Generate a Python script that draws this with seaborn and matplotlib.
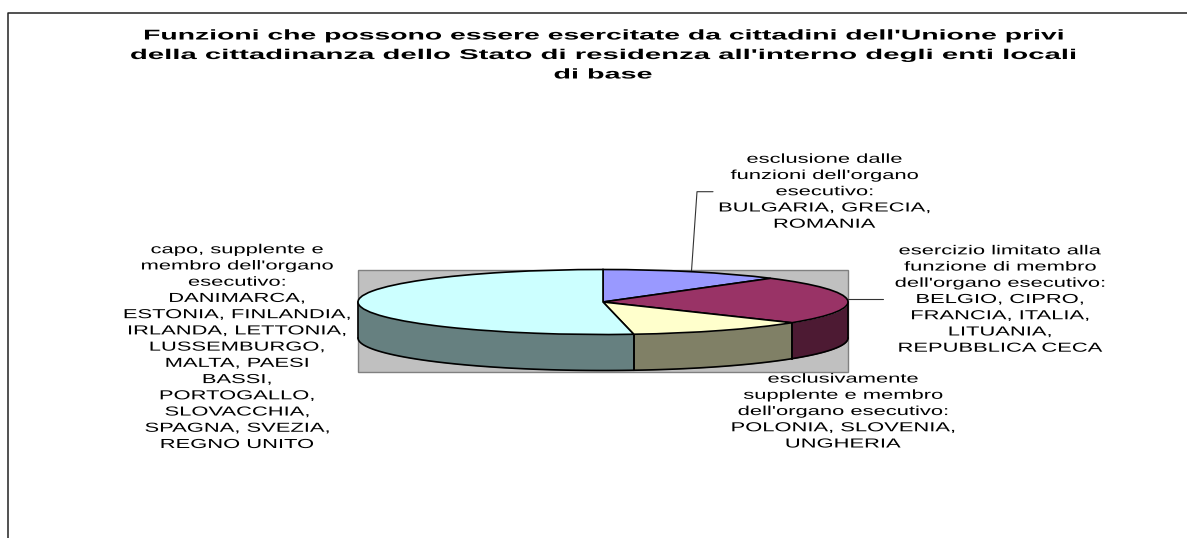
import numpy as np
import seaborn as sns
import matplotlib.pyplot as plt
from matplotlib.patches import Rectangle
from matplotlib.patheffects import AbstractPathEffect
from matplotlib.transforms import Affine2D

# Number of member states in each group, clockwise from 12 o'clock
counts = [3, 6, 3, 13]
top_colors = ['#9999FF', '#993366', '#FFFFCC', '#CCFFFF']
side_colors = ['#4D4D80', '#4D1A33', '#808066', '#668080']

title_lines = [
    "Funzioni che possono essere esercitate da cittadini dell'Unione privi",
    "della cittadinanza dello Stato di residenza all'interno degli enti locali",
    "di base",
]
label_texts = [
    "esclusione dalle\nfunzioni dell'organo\nesecutivo:\nBULGARIA, GRECIA,\nROMANIA",
    "esercizio limitato alla\nfunzione di membro\ndell'organo esecutivo:\nBELGIO, CIPRO,\nFRANCIA, ITALIA,\nLITUANIA,\nREPUBBLICA CECA",
    "esclusivamente\nsupplente e membro\ndell'organo esecutivo:\nPOLONIA, SLOVENIA,\nUNGHERIA",
    "capo, supplente e\nmembro dell'organo\nesecutivo:\nDANIMARCA,\nESTONIA, FINLANDIA,\nIRLANDA, LETTONIA,\nLUSSEMBURGO,\nMALTA, PAESI\nBASSI,\nPORTOGALLO,\nSLOVACCHIA,\nSPAGNA, SVEZIA,\nREGNO UNITO",
]
# anchor of each label: centre x, baseline of the last line
label_xy = [(824.5, 227.7), (1000, 351.7), (843, 447.5), (237, 448)]

W, H = 1187, 538
cx, cy, rx, ry, depth = 603, 302, 245, 32.5, 36
title_stretch = [2.0, 2.07, 2.03]


class StretchX(AbstractPathEffect):
    # the reference text is squeezed vertically, so widen each line about its middle
    def __init__(self, sx):
        super().__init__()
        self.sx = sx

    def draw_path(self, renderer, gc, tpath, affine, rgbFace=None):
        ext = tpath.get_extents()
        mid = (ext.x0 + ext.x1) / 2
        stretch = Affine2D().translate(-mid, 0).scale(self.sx, 1).translate(mid, 0)
        renderer.draw_path(gc, tpath, stretch + affine, rgbFace)


sns.set_theme(style='white')
plt.rcParams['font.family'] = ['Liberation Sans', 'DejaVu Sans']

fig = plt.figure(figsize=(W / 100, H / 100), dpi=100)
ax = fig.add_axes([0, 0, 1, 1])
ax.set_xlim(0, W)
ax.set_ylim(H, 0)
ax.axis('off')

# outer chart frame, only top and left show in the crop
ax.plot([8, 8, W], [H, 12.5, 12.5], color='#222222', lw=1.1, clip_on=False)

# grey plot area
ax.add_patch(Rectangle((cx - rx, cy - ry), 2 * rx, 2 * ry + depth + 1,
                       fc='#C0C0C0', ec='#808080', lw=1))

# side walls of the disc, only the front half is visible
edges = np.cumsum([0] + counts) / sum(counts) * 360
for start, end, col in zip(edges[:-1], edges[1:], side_colors):
    a, b = max(start, 90), min(end, 270)
    if a >= b:
        continue
    theta = np.radians(np.linspace(a, b, 80))
    x = cx + rx * np.sin(theta)
    y = cy - ry * np.cos(theta)
    ax.fill_between(x, y, y + depth, color=col, lw=0)
    ax.plot(x, y + depth, color='black', lw=1.2)
    ax.plot([x[0], x[0]], [y[0], y[0] + depth], color='black', lw=1.2)
    ax.plot([x[-1], x[-1]], [y[-1], y[-1] + depth], color='black', lw=1.2)

# leader lines
ax.plot([691.5, 697, 713], [271, 191.7, 191.7], color='#333333', lw=0.8)
ax.plot([848, 883], [299, 299], color='#333333', lw=0.8)

for i, line in enumerate(title_lines):
    ax.text(603, 39.5 + i * 19.5, line, ha='center', va='baseline', fontsize=10.2,
            fontweight='bold', color='black', path_effects=[StretchX(title_stretch[i])])

for (lx, ly), txt in zip(label_xy, label_texts):
    ax.text(lx, ly, txt, ha='center', va='baseline', ma='center', fontsize=9.4,
            linespacing=1.47, color='black', path_effects=[StretchX(1.68)])

# top face: a normal pie in axes that are as wide and flat as the ellipse
pie_ax = fig.add_axes([(cx - rx) / W, 1 - (cy + ry) / H, 2 * rx / W, 2 * ry / H])
pie_ax.pie(counts, colors=sns.color_palette(top_colors), startangle=90, counterclock=False,
           radius=1, wedgeprops=dict(edgecolor='black', linewidth=1.2))
pie_ax.set_aspect('auto')
pie_ax.set_xlim(-1, 1)
pie_ax.set_ylim(-1, 1)
pie_ax.patch.set_alpha(0)

fig.savefig('out.png', dpi=100, facecolor='white')
